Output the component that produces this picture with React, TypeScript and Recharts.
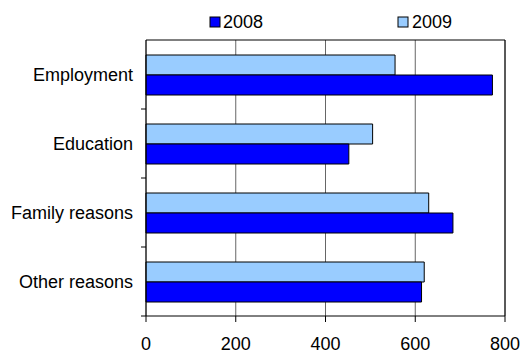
import React from 'react';
import {
  BarChart, Bar, XAxis, YAxis, CartesianGrid, Legend, ReferenceLine
} from 'recharts';

const categories = ['Employment', 'Education', 'Family reasons', 'Other reasons'];
const values2008 = [772, 452, 684, 614];
const values2009 = [555, 505, 630, 620];
const xTicks = [0, 200, 400, 600, 800];

const data = categories.map((name, i) => ({
  name,
  y2008: values2008[i],
  y2009: values2009[i],
}));

const FONT = '"Liberation Sans", Arial, sans-serif';
const W = 532;
const H = 354;
const MARGIN = { top: 16, right: 27, bottom: 0, left: 0 };
const Y_AXIS_W = 146;
const PLOT_W = W - MARGIN.left - MARGIN.right - Y_AXIS_W;

const LegendBox = () => (
  <svg width={W} height={24} style={{ display: 'block', overflow: 'visible' }}>
    <rect x={210} y={7} width={10} height={10} fill="#0000FF" stroke="#000" />
    <text x={223} y={18} fontSize={18} fontFamily={FONT} fill="#000">2008</text>
    <rect x={398} y={7} width={10} height={10} fill="#99CCFF" stroke="#000" />
    <text x={412} y={18} fontSize={18} fontFamily={FONT} fill="#000">2009</text>
  </svg>
);

// category label, tick marks on the band boundaries, and the top frame line
const CategoryTick = (props: any) => {
  const { x, y, payload, index, visibleTicksCount } = props;
  const half = payload.offset || 0;
  const ax = x + 13;
  const last = index === visibleTicksCount - 1;
  return (
    <g>
      <text x={x} y={y} dy="0.355em" textAnchor="end" fontSize={18} fontFamily={FONT} fill="#000">
        {payload.value}
      </text>
      {index === 0 && <line x1={ax} x2={ax + PLOT_W} y1={y - half} y2={y - half} stroke="#000" />}
      {index > 0 && <line x1={ax - 5} x2={ax} y1={y - half} y2={y - half} stroke="#000" />}
      {last && <line x1={ax - 5} x2={ax} y1={y + half} y2={y + half} stroke="#000" />}
    </g>
  );
};

export default function App() {
  return (
    <div style={{ position: 'absolute', left: 0, top: 0, fontFamily: FONT }}>
      <BarChart
        width={W}
        height={H}
        data={data}
        layout="vertical"
        margin={MARGIN}
        barCategoryGap={15}
        barGap={0}
      >
        <CartesianGrid horizontal={false} vertical stroke="#666" />
        <XAxis
          type="number"
          domain={[0, 800]}
          ticks={xTicks}
          height={38}
          tickSize={6}
          tickMargin={15}
          stroke="#000"
          tick={{ fill: '#000', fontSize: 18 }}
        />
        <YAxis
          type="category"
          dataKey="name"
          width={Y_AXIS_W}
          tickLine={false}
          tickSize={0}
          tickMargin={13}
          stroke="#000"
          tick={<CategoryTick />}
        />
        <ReferenceLine x={800} stroke="#000" />
        <Legend
          verticalAlign="top"
          wrapperStyle={{ top: 10, left: 0, width: W }}
          content={() => <LegendBox />}
        />
        <Bar dataKey="y2009" name="2009" fill="#99CCFF" stroke="#000" strokeWidth={1} isAnimationActive={false} />
        <Bar dataKey="y2008" name="2008" fill="#0000FF" stroke="#000" strokeWidth={1} isAnimationActive={false} />
      </BarChart>
    </div>
  );
}
